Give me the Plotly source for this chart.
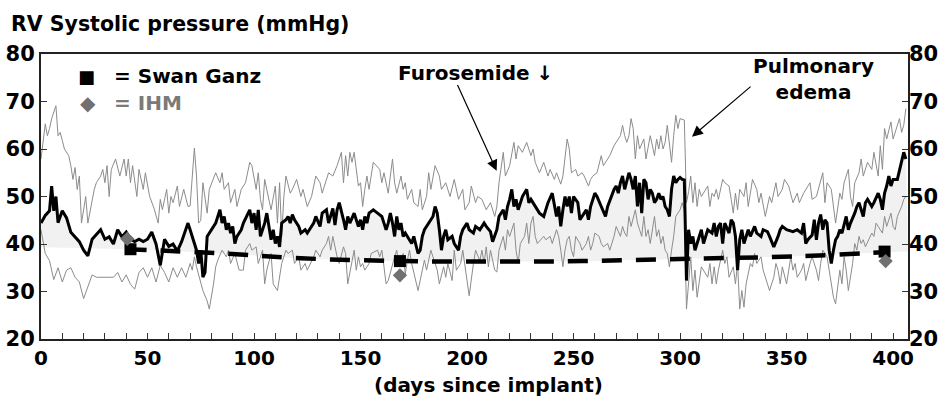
import plotly.graph_objects as go

# ---------------- data ----------------
upper_days = [0,2,3,4,5,7,8,9,10,11, 13,14,15,16,17,18,19,20,21,22, 25,26,28,29,30,31,32,33,35,37,
              39,40,41,42,43,45,46,48,49,51, 53,55,56,57,59,60,61,62,64,65, 67,69,70,72,73,74,75,76,78,79,
              82,84,85,86,88,89,91,92,94,96, 98,99,101,102,103,104,105,108,110,111,
              112,113,114,115,117,118,120,122,123,125, 127,129,131,132,135,137,139,141,142,143,
              144,145,146,147,148,149,150,151,152,153, 154,156,159,160,161,163,165,166,167,169,
              170,171,172,174,175,177,178,179,181,182, 183,185,187,188,190,192,194,196,198,199,
              201,202,204,205,207,209,211,213,214,215, 217,218,220,221,222,223,224,226,228,230,
              231,232,234,236,238,239,241,242,244,245, 247,248,249,251,252,254,255,257,258,259,
              261,263,264,266,267,269,270,272,273,274, 275,276,277,278,279,280,281,283,284,285,
              286,288,289,290,291,292,293,294,296,297, 298,299,300,302,303,304,305,306,307,308,
              309,310,313,314,315,316,317,318,320,321, 323,324,325,326,327,328,330,331,332,333,
              334,336,337,338,340,342,343,345,346,348, 349,351,353,355,356,358,361,362,364,367,
              368,369,371,373,375,376,377,379,380,381, 382,384,385,386,388,390,391,393,394,395,
              396,397,399,400,401,403,404,405,406]
upper_mmhg = [57.9,65.3,62.8,64.3,66.4,69.1,62.8,63.5,61.8,60.0, 58.6,56.5,53.6,56.1,51.5,54.3,44.4,47.2,50.0,44.4,
              51.5,52.9,54.3,55.7,52.9,56.5,50.0,55.7,57.9,54.3, 57.9,54.3,57.9,52.9,56.5,50.0,55.7,51.5,55.0,50.0,
              47.6,44.4,49.4,47.2,51.5,46.5,50.0,48.7,52.2,47.9, 51.5,47.9,48.0,60.2,54.3,44.4,45.0,52.9,46.5,51.5,
              55.0,52.9,55.0,51.5,52.9,48.7,51.5,47.9,51.5,52.9, 57.2,56.5,51.5,55.0,49.4,47.2,53.6,47.2,52.2,44.4,
              52.9,41.6,50.0,54.3,50.7,51.5,53.6,50.0,51.5,47.9, 50.0,54.3,52.9,50.7,55.0,54.3,56.5,59.3,52.9,58.6,
              54.3,59.3,57.2,59.3,55.7,52.2,52.9,47.9,51.5,54.3, 51.5,57.2,55.7,52.9,55.0,50.7,57.9,52.9,50.7,54.3,
              51.5,52.9,49.4,51.5,48.7,47.9,51.5,47.2,50.0,55.0, 51.5,56.5,54.3,51.5,52.9,50.0,53.6,49.4,51.5,47.2,
              48.7,52.2,48.7,50.0,49.4,47.2,48.7,45.8,47.9,52.9, 59.3,54.3,56.5,58.6,61.4,57.9,60.7,59.3,61.4,58.6,
              60.0,57.2,55.0,57.2,54.3,55.7,53.6,55.0,52.6,54.3, 62.1,60.0,55.0,55.7,54.3,55.0,54.3,52.2,53.6,54.3,
              55.0,58.6,56.5,57.9,58.6,60.7,61.4,62.8,65.0,62.8, 61.4,62.8,66.4,64.3,57.9,62.8,60.0,62.1,57.9,60.7,
              62.8,58.6,62.1,60.0,62.8,60.0,61.4,65.0,57.2,62.8, 67.1,64.3,66.4,66.1,48.7,51.0,54.3,48.7,52.9,47.9,
              51.5,50.0,52.2,47.9,50.7,50.0,51.5,49.4,53.6,52.9, 52.2,49.4,46.5,50.7,47.2,51.5,50.0,52.9,47.9,50.7,
              53.6,51.5,48.7,50.7,45.8,50.0,48.7,52.9,50.0,51.5, 53.6,52.2,48.7,50.7,48.7,50.7,52.9,49.4,50.0,55.0,
              48.7,52.9,51.5,44.4,50.7,49.4,52.9,55.7,50.0,47.9, 52.9,55.0,57.9,54.3,57.2,55.7,59.3,54.3,60.7,55.7,
              64.3,62.1,65.7,62.1,63.5,66.4,63.5,65.0,68.5]

mean_days = [0,2,4,5,6,7,8,10,12,14, 16,18,20,22,24,26,28,30,32,34, 36,38,40,42,44,46,48,50,52,54,
             56,58,60,62,64,66,69,70,72,73, 74,75,76,77,78,81,82,84,85,86, 87,88,89,90,91,92,94,95,97,98,
             99,100,101,102,103,105,106,107,108,109, 110,111,112,113,115,116,117,118,119,121,
             122,124,125,128,129,131,132,134,135,137, 138,139,140,142,143,144,145,147,149,150,
             151,152,153,154,156,158,160,161,162,163, 164,165,166,167,168,169,170,171,174,175,
             177,178,179,180,182,184,185,186,187,188, 189,190,191,193,194,196,197,198,200,201,
             203,204,206,208,209,211,212,213,214,215, 217,218,219,220,221,222,223,224,226,228,
             229,230,231,233,234,236,238,240,242,243, 244,245,246,247,248,249,250,252,253,255,
             256,257,258,260,261,263,265,266,269,270, 271,272,273,274,275,276,277,278,279,280,
             281,282,283,284,285,286,287,288,289,290, 291,292,293,294,295,296,297,298,299,300,
             301,302,303,304,305,306,307,309,310,311, 313,315,316,317,318,319,320,321,323,324,
             325,326,327,328,329,330,331,332,333,335, 336,338,339,341,342,344,346,347,348,350,
             353,355,357,358,359,360,362,363,364,365, 366,367,368,369,370,371,372,373,374,375,
             376,377,378,379,380,382,383,384,385,386, 387,388,390,391,393,394,395,396,397,398,
             399,400,402,403,405,406]
mean_mmhg = [44.4,46.0,47.0,52.2,47.0,50.0,44.5,47.0,45.5,42.5, 41.5,40.5,38.7,37.5,41.0,42.0,43.0,41.0,41.5,40.0,
             43.0,41.5,42.5,41.0,40.5,41.0,40.5,41.0,42.5,40.0, 35.5,41.0,39.5,40.0,38.5,40.5,44.4,43.0,40.1,38.7,
             35.9,38.7,33.0,34.0,41.6,43.7,44.4,47.2,44.4,45.8, 43.0,44.4,42.3,43.7,40.1,41.6,43.0,44.4,46.5,47.2,
             44.4,46.5,43.0,47.2,41.6,44.4,46.5,43.7,40.9,43.0, 40.1,41.6,39.4,44.4,45.1,45.8,44.4,46.2,45.1,43.7,
             42.3,43.0,42.3,44.4,45.8,43.7,46.5,47.2,44.4,47.5, 44.0,47.2,48.7,45.1,43.0,45.8,44.4,46.5,43.7,45.1,
             43.0,45.8,44.4,46.5,47.2,46.5,45.8,44.4,43.0,44.4, 46.5,44.4,41.6,45.8,43.0,44.4,41.6,42.3,40.1,41.6,
             38.0,38.7,41.6,43.0,44.4,45.8,47.9,46.5,43.0,38.7, 41.6,43.0,40.9,41.6,40.1,38.7,41.6,43.0,44.4,43.0,
             42.3,43.7,43.0,44.4,43.7,42.6,40.5,41.6,43.0,45.8, 47.2,45.1,47.9,49.4,51.5,47.9,49.4,47.2,50.0,51.5,
             48.7,49.4,48.7,47.2,46.5,45.8,48.7,50.7,45.8,47.9, 43.7,47.2,50.0,47.9,50.0,46.5,50.0,48.7,45.1,46.5,
             47.2,45.1,47.9,50.7,50.0,47.9,45.8,47.9,51.5,52.2, 50.7,52.9,54.3,51.5,53.0,55.0,53.6,51.5,54.3,47.9,
             52.9,46.5,53.6,52.9,49.4,51.5,50.7,48.7,49.4,50.7, 49.4,50.0,47.9,47.2,45.8,51.5,54.3,52.9,53.6,54.0,
             53.6,53.5,32.3,43.0,40.1,41.6,38.7,41.6,43.0,40.1, 43.0,42.3,44.4,41.6,43.7,44.4,40.1,44.4,42.3,45.1,
             44.4,41.6,34.5,40.9,43.0,40.1,41.6,43.0,41.6,43.7, 42.3,41.6,43.0,42.6,41.6,39.4,41.6,43.0,43.7,43.0,
             42.6,43.0,42.3,44.4,40.1,40.9,41.9,45.1,40.9,44.4, 46.2,43.0,45.1,44.4,38.7,35.9,38.7,40.9,41.6,43.0,
             42.3,44.4,45.8,43.0,44.4,46.5,47.9,48.7,47.2,45.8, 48.7,49.4,47.9,48.7,50.7,49.4,47.2,50.7,52.2,54.3,
             52.2,53.6,53.6,55.7,59.3,57.9]

lower_days = [0,1,2,4,6,8,10,12,14,16, 18,20,22,24,26,34,36,38,40,42, 44,46,48,50,52,54,56,58,60,62,
              64,66,68,70,71,72,73,75,76,78, 79,81,82,83,85,87,88,89,91,93, 95,96,98,99,101,102,104,105,106,108,
              109,111,112,113,115,116,118,119,121,122, 124,125,128,129,131,132,134,135,136,137,
              139,140,142,143,144,146,147,148,149,150, 151,152,154,155,158,159,160,161,162,163,
              165,166,167,168,170,171,172,173,174,177, 179,180,181,183,184,186,187,189,190,191,
              193,194,195,197,198,200,201,203,204,206, 207,208,209,210,211,213,214,215,216,217,
              218,219,220,222,223,224,225,227,228,229, 230,231,232,233,236,237,239,240,242,243,
              244,245,246,247,248,249,250,251,253,254, 256,257,258,259,260,262,263,264,266,267,
              269,270,272,273,274,275,276,277,279,280, 281,282,283,284,285,286,288,289,290,291,
              292,293,294,295,296,297,298,300,301,302, 303,304,305,306,307,308,309,310,313,314,
              315,316,317,318,320,321,322,323,325,326, 327,328,329,330,331,333,334,335,336,338,
              339,341,342,344,345,346,347,348,350,351, 352,353,354,355,357,358,359,361,362,364,
              365,366,367,369,370,372,373,374,375,376, 377,378,379,381,382,383,384,385,386,387,
              390,391,392,394,395,396,397,399,400,401, 402,404,405,406]
lower_mmhg = [43.0,40.0,38.0,36.5,32.5,35.0,32.0,34.5,35.0,33.0, 32.0,28.5,31.0,33.5,33.0,33.0,34.0,32.0,33.5,31.5,
              30.5,34.0,35.0,33.0,35.0,32.0,35.5,34.0,32.0,35.0, 33.0,35.0,33.0,35.9,34.5,37.3,35.2,31.6,30.2,28.0,
              26.3,31.6,35.2,36.6,38.7,37.3,38.7,35.9,38.0,34.5, 34.5,38.7,40.1,38.7,39.4,35.9,38.7,31.6,34.5,38.0,
              31.6,30.2,33.0,35.9,38.7,38.0,38.7,35.9,37.3,34.5, 35.9,34.5,37.3,38.7,37.3,38.7,40.1,41.6,38.7,41.6,
              37.3,35.9,39.4,38.0,31.6,35.9,38.7,34.5,37.3,35.2, 35.9,34.5,35.9,38.0,38.7,37.3,38.7,35.2,31.6,32.3,
              35.9,37.3,38.7,35.2,38.0,33.7,36.6,38.7,35.9,30.2, 34.5,36.6,34.5,38.7,37.3,34.5,31.6,35.2,33.0,35.9,
              32.3,38.7,34.5,35.9,38.7,31.6,29.1,35.9,38.7,36.5, 38.7,35.9,39.4,35.2,38.7,34.5,34.1,38.7,40.1,41.6,
              38.7,43.0,41.6,44.4,38.7,35.9,40.1,41.6,44.4,40.1, 44.4,45.8,41.6,40.1,41.6,40.9,41.6,40.1,43.0,41.6,
              38.7,35.2,38.7,40.9,41.6,38.7,37.3,41.6,40.1,38.7, 40.1,41.6,38.7,40.1,42.3,41.6,40.1,39.4,40.1,38.7,
              41.6,43.7,41.6,43.7,42.3,41.6,45.8,43.7,47.2,44.4, 43.0,41.6,45.8,41.6,43.0,40.1,45.8,41.6,43.0,40.1,
              41.6,38.7,38.0,35.2,38.7,41.6,45.8,47.2,48.7,47.0, 26.3,31.6,37.3,30.2,34.5,28.8,31.6,35.2,33.0,35.9,
              31.6,35.2,31.6,34.5,38.7,35.9,37.3,33.0,35.2,31.6, 35.9,26.3,30.2,26.7,31.6,35.9,35.2,38.0,35.9,37.3,
              34.5,31.6,30.2,33.0,35.9,34.5,31.6,35.2,31.6,34.5, 37.3,34.5,35.9,33.0,34.5,35.9,32.3,35.9,37.3,34.5,
              32.3,35.9,38.7,37.3,34.5,28.8,27.4,31.6,34.5,31.6, 37.3,34.5,30.2,35.9,40.1,38.7,41.6,40.1,40.9,39.4,
              42.3,41.6,44.4,43.0,42.3,45.8,43.7,46.5,43.7,43.0, 45.8,47.9,49.4,50.0]

# Swan Ganz reference trend (dashed) and the shaded band baseline
trend_days = [40, 82, 122, 169, 213, 254, 304, 355, 397]
trend_mmhg = [38.9, 38.1, 37.0, 36.4, 36.3, 36.4, 36.9, 37.4, 38.3]
band_days = [0] + trend_days + [407]
band_mmhg = [39.3] + trend_mmhg + [38.4]

swan_days = [42, 168.5, 396]
swan_mmhg = [38.9, 36.4, 38.4]
ihm_days = [40.5, 168.5, 396.5]
ihm_mmhg = [41.1, 33.4, 36.4]

x_ticks = [0, 50, 100, 150, 200, 250, 300, 350, 400]
y_ticks = [20, 30, 40, 50, 60, 70, 80]

# ---------------- figure ----------------
FONT = "DejaVu Sans"
L, R, T, B = 41, 40, 54, 65
W, H = 948, 404
PW, PH = W - L - R, H - T - B


def px(xp):
    return (xp - L) / PW


def py(yp):
    return (H - B - yp) / PH


fig = go.Figure()

fig.add_trace(go.Scatter(x=band_days, y=band_mmhg, mode="lines", line=dict(width=0, shape="spline"),
                         hoverinfo="skip", showlegend=False))
fig.add_trace(go.Scatter(x=mean_days, y=mean_mmhg, mode="lines", line=dict(width=0),
                         fill="tonexty", fillcolor="#f1f1f1", hoverinfo="skip", showlegend=False))
fig.add_trace(go.Scatter(x=upper_days, y=upper_mmhg, mode="lines",
                         line=dict(color="#8c8c8c", width=1), showlegend=False))
fig.add_trace(go.Scatter(x=lower_days, y=lower_mmhg, mode="lines",
                         line=dict(color="#8c8c8c", width=1), showlegend=False))
fig.add_trace(go.Scatter(x=mean_days, y=mean_mmhg, mode="lines",
                         line=dict(color="black", width=3), showlegend=False))
fig.add_trace(go.Scatter(x=trend_days, y=trend_mmhg, mode="lines",
                         line=dict(color="black", width=4.5, dash="20px,14px", shape="spline"),
                         showlegend=False))
fig.add_trace(go.Scatter(x=swan_days, y=swan_mmhg, mode="markers",
                         marker=dict(symbol="square", size=12, color="black"), showlegend=False))
fig.add_trace(go.Scatter(x=ihm_days, y=ihm_mmhg, mode="markers",
                         marker=dict(symbol="diamond", size=11, color="#707070"), showlegend=False))
# right axis carrier
fig.add_trace(go.Scatter(x=[None], y=[None], yaxis="y2", showlegend=False, hoverinfo="skip"))

ytickfont = dict(family=FONT, size=21, color="black", weight="bold")
xtickfont = dict(family=FONT, size=20, color="black", weight="bold")
fig.update_layout(
    width=W, height=H,
    margin=dict(l=L, r=R, t=T, b=B, pad=0),
    plot_bgcolor="white", paper_bgcolor="white",
    showlegend=False,
    xaxis=dict(range=[0, 407], tickvals=x_ticks, ticks="inside", ticklen=6, tickwidth=1,
               tickcolor="#333", showline=True, linecolor="#222", linewidth=2, mirror=True,
               showgrid=False, zeroline=False, tickfont=xtickfont, automargin=False,
               minor=dict(dtick=10, tick0=0, ticks="inside", ticklen=6, tickcolor="#333", showgrid=False)),
    yaxis=dict(range=[20, 80], tickvals=y_ticks, ticks="inside", ticklen=6, tickcolor="#333",
               showline=True, linecolor="#222", linewidth=2, mirror=True, showgrid=False,
               zeroline=False, tickfont=ytickfont, automargin=False),
    yaxis2=dict(range=[20, 80], tickvals=y_ticks, overlaying="y", side="right", ticks="inside",
                ticklen=6, tickcolor="#333", showline=False, showgrid=False, zeroline=False,
                tickfont=ytickfont, automargin=False),
)

ann = []
ann.append(dict(text="<b>RV Systolic pressure (mmHg)</b>", xref="paper", yref="paper",
                x=px(9), y=py(24), xanchor="left", yanchor="middle", showarrow=False,
                font=dict(family=FONT, size=20.5, color="black")))
ann.append(dict(text="<b>(days since implant)</b>", xref="paper", yref="paper",
                x=px(488), y=py(385), xanchor="center", yanchor="middle", showarrow=False,
                font=dict(family=FONT, size=20, color="black")))
# legend
ann.append(dict(text="■", xref="paper", yref="paper", x=px(86), y=py(76), xanchor="center",
                yanchor="middle", showarrow=False, font=dict(family=FONT, size=18, color="black")))
ann.append(dict(text="<b>= Swan Ganz</b>", xref="paper", yref="paper", x=px(112), y=py(76),
                xanchor="left", yanchor="middle", showarrow=False,
                font=dict(family=FONT, size=20, color="black")))
ann.append(dict(text="◆", xref="paper", yref="paper", x=px(88), y=py(103), xanchor="center",
                yanchor="middle", showarrow=False, font=dict(family=FONT, size=20, color="#707070")))
ann.append(dict(text="<b>= IHM</b>", xref="paper", yref="paper", x=px(112), y=py(103),
                xanchor="left", yanchor="middle", showarrow=False,
                font=dict(family=FONT, size=20, color="#7a7a7a")))
# event labels
ann.append(dict(text="<b>Furosemide ↓</b>", xref="paper", yref="paper", x=px(396), y=py(73),
                xanchor="left", yanchor="middle", showarrow=False,
                font=dict(family=FONT, size=20, color="black")))
ann.append(dict(text="<b>Pulmonary<br>edema</b>", xref="paper", yref="paper", x=px(813), y=py(79),
                xanchor="center", yanchor="middle", showarrow=False,
                font=dict(family=FONT, size=20, color="black")))
# arrows
ann.append(dict(text="", x=213.9, y=55.4, ax=195.2, ay=73.8, xref="x", yref="y", axref="x", ayref="y",
                showarrow=True, arrowhead=2, arrowsize=1.8, arrowwidth=1.2, arrowcolor="black"))
ann.append(dict(text="", x=305.6, y=62.6, ax=333.8, ay=73.4, xref="x", yref="y", axref="x", ayref="y",
                showarrow=True, arrowhead=2, arrowsize=1.8, arrowwidth=1.2, arrowcolor="black"))
fig.update_layout(annotations=ann)

fig.write_html("out.html")
